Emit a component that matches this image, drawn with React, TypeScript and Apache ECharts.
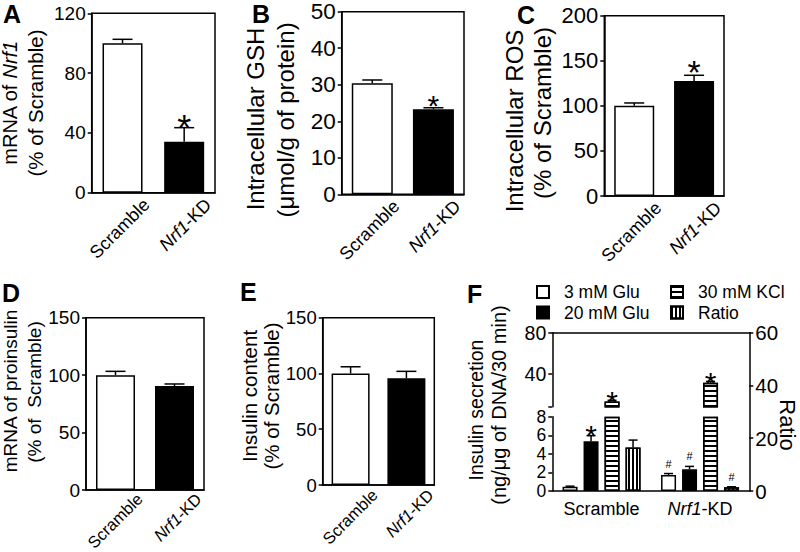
import React, { useEffect, useRef } from 'react';
import * as echarts from 'echarts';

const FONT = '"Liberation Sans", Arial, Helvetica, sans-serif';

const categories = ['Scramble', 'Nrf1-KD'];

// Panel A
const yTicksA = [0, 40, 80, 120];
const nrf1Mean = [100, 34];
const nrf1ErrTop = [102.6, 43.5];
const nrf1Sig = ['', '*'];
// Panel B
const yTicksB = [0, 10, 20, 30, 40, 50];
const gshMean = [30.4, 23.3];
const gshErrTop = [31.3, 23.7];
const gshSig = ['', '*'];
// Panel C
const yTicksC = [0, 50, 100, 150, 200];
const rosMean = [100, 127.6];
const rosErrTop = [103.2, 133.9];
const rosSig = ['', '*'];
// Panel D
const yTicksD = [0, 50, 100, 150];
const proinsulinMean = [100, 90.5];
const proinsulinErrTop = [103.3, 92.3];
const proinsulinSig = ['', ''];
// Panel E
const yTicksE = [0, 50, 100, 150];
const contentMean = [100, 95.7];
const contentErrTop = [106, 101.9];
const contentSig = ['', ''];
// Panel F
const secretionNames = ['3 mM Glu', '20 mM Glu', '30 mM KCl', 'Ratio'];
const yTicksFLow = [0, 2, 4, 6, 8];
const yTicksFHigh = [40, 80];
const yRangeFHigh = [8, 80];
const yTicksRatio = [0, 20, 40, 60];
const glu3Mean = [0.45, 1.72];
const glu3ErrTop = [0.52, 1.88];
const glu3Sig = ['', '#'];
const glu20Mean = [5.35, 2.33];
const glu20ErrTop = [5.96, 2.65];
const glu20Sig = ['*', '#'];
const kclMean = [13.1, 31.2];
const kclErrTop = [14.2, 32.6];
const kclSig = ['*', '*'];
const ratioMean = [16.5, 1.4];
const ratioErrTop = [19.3, 1.6];
const ratioSig = ['', '#'];

const BLACK = '#000';
const simpleFill = ['#fff', '#000'];

const lineStyle = { color: BLACK, width: 1.5 };

const simplePanels = [
  { ticks: yTicksA, mean: nrf1Mean, top: nrf1ErrTop, sig: nrf1Sig, box: [91.7, 13.3, 123.3, 179.4], tickFont: 19, barW: 40, sigFont: 36, sigGap: -1, xFont: 18, xdy: 9 },
  { ticks: yTicksB, mean: gshMean, top: gshErrTop, sig: gshSig, box: [341.7, 11.7, 122.3, 182.6], tickFont: 22.5, barW: 41, sigFont: 30, sigGap: 2, xFont: 18, xdy: 9 },
  { ticks: yTicksC, mean: rosMean, top: rosErrTop, sig: rosSig, box: [604.3, 15.7, 119.7, 180.3], tickFont: 22, barW: 40, sigFont: 34, sigGap: 3, xFont: 18, xdy: 9 },
  { ticks: yTicksD, mean: proinsulinMean, top: proinsulinErrTop, sig: proinsulinSig, box: [86, 317.7, 118, 172.3], tickFont: 19, barW: 39, sigFont: 34, sigGap: 0, xFont: 16.5, xdy: 6 },
  { ticks: yTicksE, mean: contentMean, top: contentErrTop, sig: contentSig, box: [322.7, 317.7, 111.6, 167.3], tickFont: 18.5, barW: 38, sigFont: 34, sigGap: 0, xFont: 16.5, xdy: 7 },
];

function errorSeries(
  xi: number,
  yi: number,
  mean: number[],
  top: number[],
  sig: string[],
  o: { dx: number; cap: number; sigFont: number; sigGap: number; hashFont?: number; hashGap?: number }
) {
  return {
    type: 'custom',
    xAxisIndex: xi,
    yAxisIndex: yi,
    silent: true,
    z: 4,
    clip: false,
    data: mean.map((m, i) => [i, m, top[i]]),
    renderItem: (params: any, api: any) => {
      const i = api.value(0);
      const p0 = api.coord([i, api.value(1)]);
      const p1 = api.coord([i, api.value(2)]);
      const x = p0[0] + o.dx;
      const children: any[] = [
        { type: 'line', shape: { x1: x, y1: p0[1], x2: x, y2: p1[1] }, style: { stroke: BLACK, lineWidth: 1.5 } },
        { type: 'line', shape: { x1: x - o.cap / 2, y1: p1[1], x2: x + o.cap / 2, y2: p1[1] }, style: { stroke: BLACK, lineWidth: 1.5 } },
      ];
      const s = sig[params.dataIndex];
      if (s) {
        const isHash = s === '#';
        children.push({
          type: 'text',
          x,
          y: p1[1] - (isHash ? o.hashGap ?? 10 : o.sigGap),
          style: {
            text: s,
            fontSize: isHash ? o.hashFont ?? 11 : o.sigFont,
            fontFamily: FONT,
            fill: BLACK,
            align: 'center',
            verticalAlign: 'middle',
          },
        });
      }
      return { type: 'group', children };
    },
  };
}

const txt = (text: string, x: number, y: number, size: number, rotation: number, extra: any = {}) => ({
  type: 'text',
  x,
  y,
  rotation,
  silent: true,
  style: {
    text,
    fontSize: size,
    fontFamily: FONT,
    fill: BLACK,
    align: 'center',
    verticalAlign: 'middle',
    ...extra,
  },
});

const italicRich = (size: number) => ({ rich: { i: { fontStyle: 'italic', fontSize: size, fontFamily: FONT, fill: BLACK } } });
const withItalicGene = (c: string) => (c === 'Nrf1-KD' ? '{i|Nrf1}-KD' : c);

function buildOption() {
  const grid: any[] = [];
  const xAxis: any[] = [];
  const yAxis: any[] = [];
  const series: any[] = [];

  simplePanels.forEach((p, i) => {
    grid.push({ left: p.box[0], top: p.box[1], width: p.box[2], height: p.box[3], show: true, borderColor: BLACK, borderWidth: 1.5, backgroundColor: 'transparent' });
    xAxis.push({
      gridIndex: i,
      type: 'category',
      data: categories,
      axisLine: { lineStyle },
      axisTick: { show: false },
      axisLabel: { show: false },
    });
    yAxis.push({
      gridIndex: i,
      type: 'value',
      min: p.ticks[0],
      max: p.ticks[p.ticks.length - 1],
      interval: p.ticks[1] - p.ticks[0],
      axisLine: { show: true, lineStyle },
      axisTick: { show: true, length: 4, lineStyle },
      axisLabel: { fontSize: p.tickFont, fontFamily: FONT, color: BLACK, margin: 6, showMinLabel: true, showMaxLabel: true },
      splitLine: { show: false },
    });
    series.push({
      type: 'bar',
      xAxisIndex: i,
      yAxisIndex: i,
      barWidth: p.barW,
      silent: true,
      itemStyle: { borderColor: BLACK, borderWidth: 1.5 },
      data: p.mean.map((v, j) => ({ value: v, itemStyle: { color: simpleFill[j] } })),
    });
    series.push(errorSeries(i, i, p.mean, p.top, p.sig, { dx: 0, cap: 20, sigFont: p.sigFont, sigGap: p.sigGap }));
  });

  // Panel F: 5 = lower, 6 = upper, 7 = ratio (full height)
  const fLeft = 552.3;
  const fWidth = 197;
  grid.push({ left: fLeft, top: 416.7, width: fWidth, height: 74.3 });
  grid.push({ left: fLeft, top: 332.7, width: fWidth, height: 74 });
  grid.push({ left: fLeft, top: 332.7, width: fWidth, height: 158.3 });

  xAxis.push({
    gridIndex: 5,
    type: 'category',
    data: categories,
    axisLine: { lineStyle },
    axisTick: { show: false },
    axisLabel: {
      interval: 0,
      fontSize: 18,
      fontFamily: FONT,
      color: BLACK,
      margin: 9,
      formatter: (v: string) => withItalicGene(v),
      rich: { i: { fontStyle: 'italic', fontSize: 18, fontFamily: FONT, color: BLACK } },
    },
  });
  xAxis.push({
    gridIndex: 6,
    type: 'category',
    data: categories,
    position: 'top',
    axisLine: { lineStyle },
    axisTick: { show: false },
    axisLabel: { show: false },
  });
  xAxis.push({ gridIndex: 7, type: 'category', data: categories, show: false });

  yAxis.push({
    gridIndex: 5,
    type: 'value',
    min: yTicksFLow[0],
    max: yTicksFLow[yTicksFLow.length - 1],
    interval: yTicksFLow[1] - yTicksFLow[0],
    axisLine: { show: true, lineStyle },
    axisTick: { show: true, length: 4, lineStyle },
    axisLabel: { fontSize: 17.5, lineHeight: 17, fontFamily: FONT, color: BLACK, margin: 6, showMinLabel: true, showMaxLabel: true, hideOverlap: false },
    splitLine: { show: false },
  });
  yAxis.push({
    gridIndex: 6,
    type: 'value',
    min: yRangeFHigh[0],
    max: yRangeFHigh[1],
    axisLine: { show: true, lineStyle },
    axisTick: { show: true, length: 4, lineStyle, customValues: [yRangeFHigh[0], ...yTicksFHigh] },
    axisLabel: { fontSize: 19.5, fontFamily: FONT, color: BLACK, margin: 6, customValues: yTicksFHigh },
    splitLine: { show: false },
  });
  yAxis.push({
    gridIndex: 7,
    type: 'value',
    position: 'right',
    min: yTicksRatio[0],
    max: yTicksRatio[yTicksRatio.length - 1],
    interval: yTicksRatio[1] - yTicksRatio[0],
    axisLine: { show: true, lineStyle },
    axisTick: { show: true, length: 4, lineStyle },
    axisLabel: { fontSize: 20.5, fontFamily: FONT, color: BLACK, margin: 6, showMinLabel: true, showMaxLabel: true },
    splitLine: { show: false },
  });

  const hStripe = { symbol: 'rect', symbolSize: 1, color: BLACK, backgroundColor: '#fff', dashArrayX: [1, 0], dashArrayY: [1.2, 2.1], rotation: 0 };
  const vStripe = { symbol: 'rect', symbolSize: 1, color: BLACK, backgroundColor: '#fff', dashArrayX: [1.2, 1.9], dashArrayY: [1, 0], rotation: 0 };
  const fStyles: any[] = [
    { color: '#fff', borderColor: BLACK, borderWidth: 1.5 },
    { color: BLACK, borderColor: BLACK, borderWidth: 1.5 },
    { color: '#fff', borderColor: BLACK, borderWidth: 1.5, decal: hStripe },
    { color: '#fff', borderColor: BLACK, borderWidth: 1.5, decal: vStripe },
  ];
  const blank = categories.map(() => '-');
  const lowMax = yTicksFLow[yTicksFLow.length - 1];
  const perGrid: [number, any[][]][] = [
    [5, [glu3Mean, glu20Mean, kclMean.map((v) => Math.min(v, lowMax)), blank]],
    [6, [blank, blank, kclMean, blank]],
    [7, [blank, blank, blank, ratioMean]],
  ];
  perGrid.forEach(([gi, datas]) => {
    datas.forEach((d, k) => {
      series.push({
        type: 'bar',
        name: secretionNames[k],
        xAxisIndex: gi,
        yAxisIndex: gi,
        barWidth: 15,
        barGap: '40%',
        silent: true,
        itemStyle: fStyles[k],
        data: d,
      });
    });
  });
  const off = (k: number) => (k - 1.5) * 21;
  const fErr = { cap: 9, sigFont: 30, sigGap: 0, hashFont: 11, hashGap: 10 };
  series.push(errorSeries(5, 5, glu3Mean, glu3ErrTop, glu3Sig, { ...fErr, dx: off(0) }));
  series.push(errorSeries(5, 5, glu20Mean, glu20ErrTop, glu20Sig, { ...fErr, dx: off(1) }));
  series.push(errorSeries(6, 6, kclMean, kclErrTop, kclSig, { ...fErr, dx: off(2), sigGap: -1 }));
  series.push(errorSeries(7, 7, ratioMean, ratioErrTop, ratioSig, { ...fErr, dx: off(3) }));

  const legendBase = {
    orient: 'vertical',
    itemWidth: 12,
    itemHeight: 12,
    itemGap: 2.5,
    selectedMode: false,
    icon: 'rect',
    textStyle: { fontSize: 17.5, fontFamily: FONT, color: BLACK, padding: [0, 0, 0, 10] },
  };
  const legend = [
    { ...legendBase, left: 531, top: 278, data: secretionNames.slice(0, 2) },
    { ...legendBase, left: 665, top: 278, data: secretionNames.slice(2, 4) },
  ];

  const R = Math.PI / 2;
  const letter = (t: string, x: number, y: number) => txt(t, x, y, 25, 0, { fontWeight: 'bold', align: 'left' });

  const graphic = [
    letter('A', 3, 14),
    letter('B', 252, 13.5),
    letter('C', 517, 15),
    letter('D', 2, 292.5),
    letter('E', 240, 292),
    letter('F', 467, 294),
    txt('mRNA of {i|Nrf1}', 10, 103, 20, R, italicRich(20)),
    txt('(% of Scramble)', 35.5, 103, 20.5, R),
    txt('Intracellular GSH', 255, 119, 24, R),
    txt('(\u03bcmol/g of protein)', 285, 120, 24, R),
    txt('Intracellular ROS', 514, 121, 24, R),
    txt('(% of Scramble)', 542, 113, 24, R),
    txt('mRNA of proinsulin', 10, 391, 19, R),
    txt('(% of  Scramble)', 34, 392, 19, R),
    txt('Insulin content', 249, 396, 20.5, R),
    txt('(% of Scramble)', 271, 396, 20.5, R),
    txt('Insulin secretion', 476, 410, 19.5, R),
    txt('(ng/\u03bcg of DNA/30 min)', 499, 405, 20, R),
    txt('Ratio', 787, 425, 22, -R),
  ];

  return {
    animation: false,
    backgroundColor: '#fff',
    textStyle: { fontFamily: FONT },
    grid,
    xAxis,
    yAxis,
    series,
    legend,
    graphic,
  };
}

export default function App() {
  const ref = useRef<HTMLDivElement>(null);
  useEffect(() => {
    const chart = echarts.init(ref.current as HTMLDivElement, null, { renderer: 'svg', width: 800, height: 552 });
    const option = buildOption();
    chart.setOption(option as any);
    // rotated category labels, placed through each panel's own axis scale
    const labels: any[] = [];
    simplePanels.forEach((p, i) => {
      categories.forEach((c) => {
        const pt = chart.convertToPixel({ gridIndex: i } as any, [c, p.ticks[0]]) as number[];
        if (!pt) return;
        labels.push(
          txt(withItalicGene(c), pt[0] + 24, pt[1] + p.xdy, p.xFont, Math.PI / 4, { align: 'right', ...italicRich(p.xFont) })
        );
      });
    });
    chart.setOption({ graphic: [...option.graphic, ...labels] } as any);
    return () => chart.dispose();
  }, []);
  return <div ref={ref} style={{ position: 'absolute', left: 0, top: 0, width: 800, height: 552 }} />;
}
